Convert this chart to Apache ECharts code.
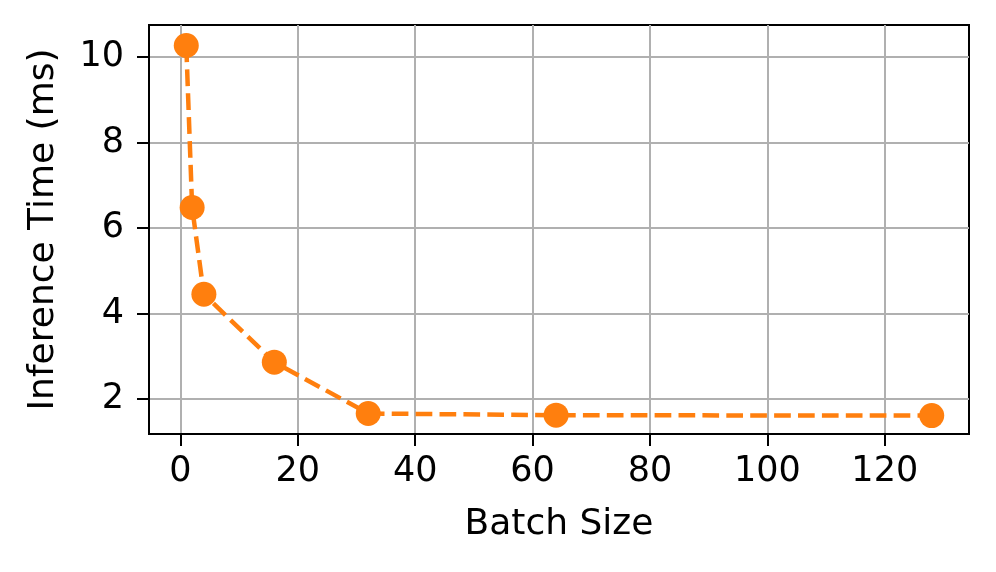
<!DOCTYPE html>
<html>
<head>
<meta charset="utf-8">
<script src="https://cdn.jsdelivr.net/npm/echarts@6/dist/echarts.min.js"></script>
<style>
  html, body { margin: 0; padding: 0; background: #fff; }
  #chart { width: 996px; height: 572px; }
</style>
</head>
<body>
<div id="chart"></div>
<script>
// batch size vs. inference time
const batchSizes = [1, 2, 4, 16, 32, 64, 128];
const inferenceMs = [10.27, 6.48, 4.45, 2.86, 1.66, 1.62, 1.61];
const xTicks = [0, 20, 40, 60, 80, 100, 120];
const yTicks = [2, 4, 6, 8, 10];

const font = 'DejaVu Sans';

const chart = echarts.init(document.getElementById('chart'));

const axisCommon = {
  type: 'value',
  nameLocation: 'middle',
  nameTextStyle: { fontFamily: font, fontSize: 36, color: '#000' },
  axisLine: { show: true, onZero: false, lineStyle: { color: '#000', width: 2 } },
  axisTick: { show: true, length: 12, lineStyle: { color: '#000', width: 2 } },
  axisLabel: { fontFamily: font, fontSize: 35, color: '#000' },
  splitLine: { show: true, lineStyle: { color: '#b0b0b0', width: 2 } },
};

chart.setOption({
  animation: false,
  grid: { left: 149, right: 27, top: 25, bottom: 138, containLabel: false,
    show: true, borderColor: '#000', borderWidth: 2 },
  xAxis: {
    ...axisCommon,
    name: 'Batch Size',
    nameGap: 73,
    min: -5.35,
    max: 134.35,
    axisTick: { ...axisCommon.axisTick, customValues: xTicks },
    axisLabel: { ...axisCommon.axisLabel, margin: 20, customValues: xTicks },
  },
  yAxis: {
    ...axisCommon,
    name: 'Inference Time (ms)',
    nameGap: 87,
    min: 1.18,
    max: 10.75,
    axisTick: { ...axisCommon.axisTick, customValues: yTicks },
    axisLabel: { ...axisCommon.axisLabel, margin: 25, customValues: yTicks },
  },
  series: [{
    type: 'line',
    data: batchSizes.map((b, i) => [b, inferenceMs[i]]),
    symbol: 'circle',
    symbolSize: 25,
    itemStyle: { color: '#ff7f0e' },
    lineStyle: { color: '#ff7f0e', width: 4.5, type: [16.7, 7.2] },
    z: 3,
  }],
});
</script>
</body>
</html>
